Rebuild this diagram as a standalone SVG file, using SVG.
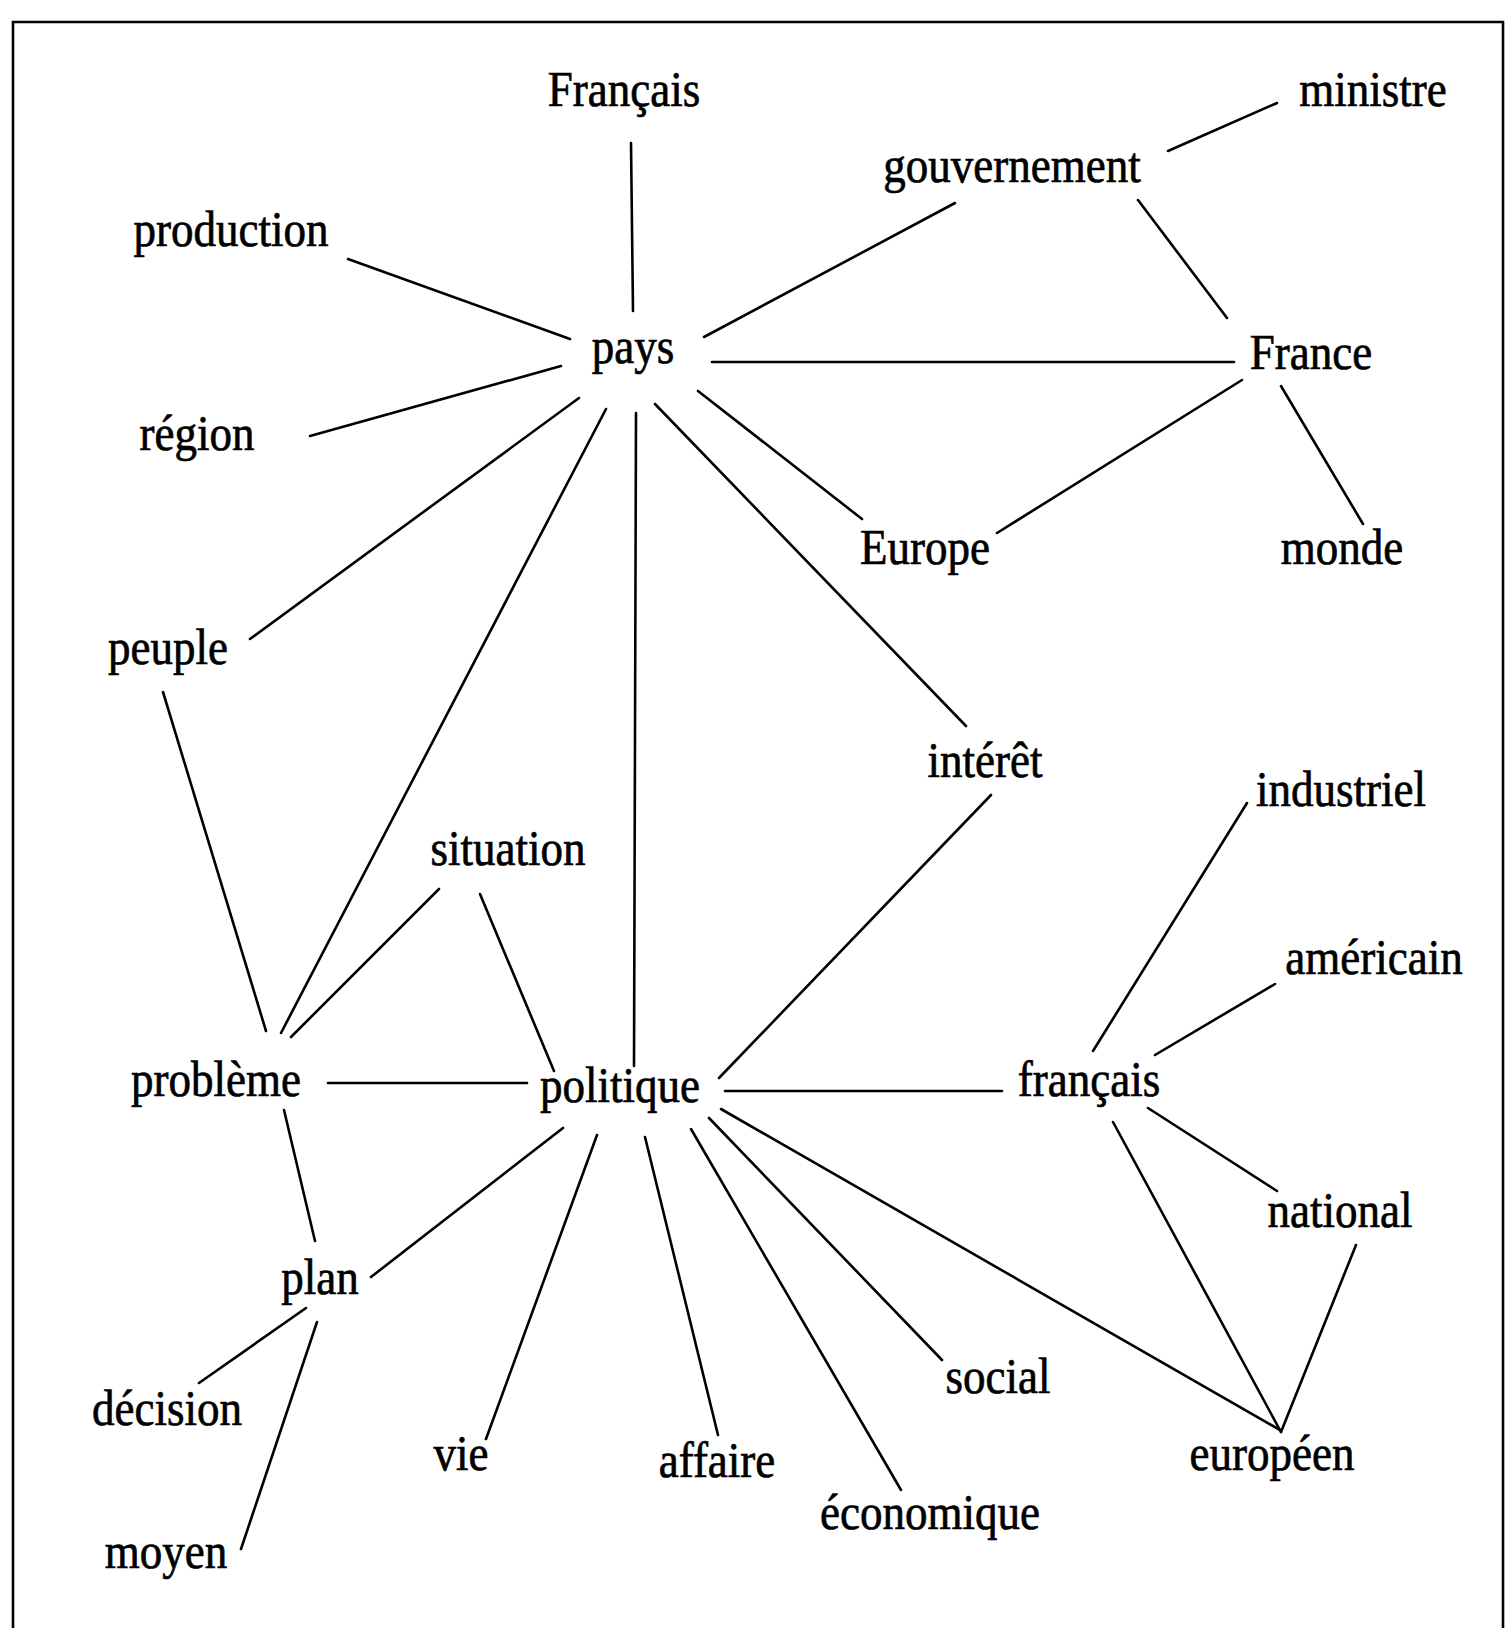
<svg xmlns="http://www.w3.org/2000/svg" width="1507" height="1628" viewBox="0 0 1507 1628">
<style>
.lbl{font-family:"Liberation Serif","Times New Roman",serif;font-size:50px;fill:#000;stroke:#000;stroke-width:0.7;text-anchor:middle}
.e line{stroke:#000;stroke-width:2.6;stroke-linecap:round}
.frame{fill:none;stroke:#000;stroke-width:2.6}
</style>
<rect width="1507" height="1628" fill="#fff"/>
<path class="frame" d="M13,1628 V22 H1503 V1628"/>
<g id="connectors" class="e">
<line x1="631" y1="143" x2="633" y2="311"/>
<line x1="348" y1="259" x2="570" y2="339"/>
<line x1="310" y1="436" x2="561" y2="366"/>
<line x1="579" y1="398" x2="250" y2="639"/>
<line x1="606" y1="409" x2="281" y2="1033"/>
<line x1="636" y1="413" x2="634" y2="1066"/>
<line x1="655" y1="404" x2="966" y2="726"/>
<line x1="698" y1="391" x2="862" y2="519"/>
<line x1="704" y1="337" x2="955" y2="203"/>
<line x1="712" y1="362" x2="1234" y2="362"/>
<line x1="1168" y1="151" x2="1277" y2="103"/>
<line x1="1138" y1="200" x2="1227" y2="318"/>
<line x1="1242" y1="380" x2="997" y2="533"/>
<line x1="1281" y1="386" x2="1363" y2="524"/>
<line x1="163" y1="692" x2="266" y2="1031"/>
<line x1="439" y1="889" x2="291" y2="1037"/>
<line x1="480" y1="894" x2="554" y2="1071"/>
<line x1="328" y1="1083" x2="527" y2="1083"/>
<line x1="991" y1="795" x2="719" y2="1078"/>
<line x1="725" y1="1091" x2="1002" y2="1091"/>
<line x1="1093" y1="1051" x2="1247" y2="803"/>
<line x1="1155" y1="1055" x2="1275" y2="984"/>
<line x1="1148" y1="1108" x2="1277" y2="1191"/>
<line x1="1113" y1="1122" x2="1281" y2="1432"/>
<line x1="1356" y1="1245" x2="1281" y2="1432"/>
<line x1="721" y1="1109" x2="1280" y2="1430"/>
<line x1="709" y1="1118" x2="942" y2="1360"/>
<line x1="691" y1="1129" x2="901" y2="1490"/>
<line x1="645" y1="1137" x2="718" y2="1435"/>
<line x1="597" y1="1135" x2="486" y2="1439"/>
<line x1="563" y1="1128" x2="371" y2="1277"/>
<line x1="284" y1="1110" x2="315" y2="1241"/>
<line x1="306" y1="1308" x2="199" y2="1383"/>
<line x1="317" y1="1322" x2="241" y2="1549"/>
</g>
<g id="n-Francais"><text class="lbl" transform="translate(624,106) scale(0.9,1)">Français</text></g>
<g id="n-ministre"><text class="lbl" transform="translate(1373,106) scale(0.9,1)">ministre</text></g>
<g id="n-gouvernement"><text class="lbl" transform="translate(1012,182) scale(0.9,1)">gouvernement</text></g>
<g id="n-production"><text class="lbl" transform="translate(231,246) scale(0.9,1)">production</text></g>
<g id="n-pays"><text class="lbl" transform="translate(633,363) scale(0.9,1)">pays</text></g>
<g id="n-France"><text class="lbl" transform="translate(1311,369) scale(0.9,1)">France</text></g>
<g id="n-region"><text class="lbl" transform="translate(197,450) scale(0.9,1)">région</text></g>
<g id="n-Europe"><text class="lbl" transform="translate(925,564) scale(0.9,1)">Europe</text></g>
<g id="n-monde"><text class="lbl" transform="translate(1342,564) scale(0.9,1)">monde</text></g>
<g id="n-peuple"><text class="lbl" transform="translate(168,664) scale(0.9,1)">peuple</text></g>
<g id="n-interet"><text class="lbl" transform="translate(985,777) scale(0.9,1)">intérêt</text></g>
<g id="n-industriel"><text class="lbl" transform="translate(1341,806) scale(0.9,1)">industriel</text></g>
<g id="n-situation"><text class="lbl" transform="translate(508,865) scale(0.9,1)">situation</text></g>
<g id="n-americain"><text class="lbl" transform="translate(1374,974) scale(0.9,1)">américain</text></g>
<g id="n-probleme"><text class="lbl" transform="translate(216,1096) scale(0.9,1)">problème</text></g>
<g id="n-politique"><text class="lbl" transform="translate(620,1102) scale(0.9,1)">politique</text></g>
<g id="n-francais"><text class="lbl" transform="translate(1089,1096) scale(0.9,1)">français</text></g>
<g id="n-national"><text class="lbl" transform="translate(1340,1227) scale(0.9,1)">national</text></g>
<g id="n-plan"><text class="lbl" transform="translate(320,1294) scale(0.9,1)">plan</text></g>
<g id="n-decision"><text class="lbl" transform="translate(167,1425) scale(0.9,1)">décision</text></g>
<g id="n-social"><text class="lbl" transform="translate(998,1393) scale(0.9,1)">social</text></g>
<g id="n-vie"><text class="lbl" transform="translate(461,1470) scale(0.9,1)">vie</text></g>
<g id="n-affaire"><text class="lbl" transform="translate(717,1477) scale(0.9,1)">affaire</text></g>
<g id="n-europeen"><text class="lbl" transform="translate(1272,1470) scale(0.9,1)">européen</text></g>
<g id="n-economique"><text class="lbl" transform="translate(930,1529) scale(0.9,1)">économique</text></g>
<g id="n-moyen"><text class="lbl" transform="translate(166,1568) scale(0.9,1)">moyen</text></g>
</svg>
